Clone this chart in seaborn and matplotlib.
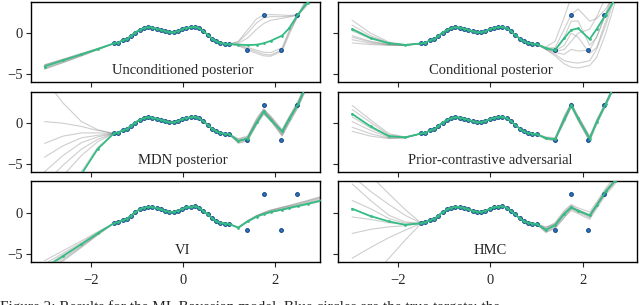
import numpy as np
import pandas as pd
import seaborn as sns
import matplotlib.pyplot as plt

# **Data**
titles = ["Unconditioned posterior", "Conditional posterior", "MDN posterior",
          "Prior-contrastive adversarial", "VI", "HMC"]

# observed targets (dense part) and the four outliers
x_data = [-1.50, -1.41, -1.31, -1.22, -1.13, -1.04, -0.94, -0.85, -0.76, -0.67,
          -0.57, -0.48, -0.39, -0.30, -0.20, -0.11, -0.02, 0.07, 0.17, 0.26,
          0.35, 0.44, 0.54, 0.63, 0.72, 0.81, 0.91, 1.00]
y_data = [-1.27, -1.15, -0.90, -0.74, -0.33, 0.08, 0.41, 0.61, 0.74, 0.70,
          0.57, 0.41, 0.25, 0.12, 0.12, 0.25, 0.49, 0.66, 0.74, 0.78,
          0.61, 0.25, -0.20, -0.66, -1.02, -1.19, -1.31, -1.35]
x_out = [1.39, 1.75, 2.12, 2.47]
y_out = [-2.05, 2.25, -2.05, 2.25]

# curves are read at these x positions outside the data range
x_left = [-3.0, -2.6, -2.2, -1.85]
x_right = [1.2, 1.4, 1.6, 1.75, 1.9, 2.15, 2.3, 2.5, 2.7, 3.0]

# posterior mean (green) per panel
mean_left = [
    [-4.12, -3.37, -2.62, -1.96],
    [0.5, -0.6, -1.25, -1.45],
    [-11.0, -8.5, -6.3, -3.2],
    [1.15, -0.4, -1.6, -1.75],
    [-6.7, -5.25, -3.8, -2.5],
    [0.5, -0.4, -1.05, -1.45],
]
mean_right = [
    [-1.4, -1.47, -1.42, -1.25, -0.95, -0.3, 0.6, 2.4, 3.8, 6.0],
    [-1.85, -2.1, -0.6, 0.4, 0.6, -0.74, 0.5, 2.3, 4.2, 7.0],
    [-2.2, -1.9, 0.1, 1.45, 0.4, -1.0, 0.5, 2.4, 5.0, 8.5],
    [-1.85, -2.0, 0.5, 2.25, 0.6, -1.9, 0.1, 2.4, 4.8, 8.5],
    [-1.8, -1.05, -0.45, -0.15, 0.1, 0.4, 0.6, 0.85, 1.1, 1.5],
    [-2.05, -1.5, -0.1, 0.65, 0.25, -0.3, 0.9, 2.6, 3.9, 6.0],
]

# posterior samples (grey) per panel
samples_left = [
    [[-3.9, -3.2, -2.5, -1.9], [-4.4, -3.6, -2.8, -2.05], [-4.0, -3.3, -2.6, -1.95],
     [-4.3, -3.5, -2.7, -2.0], [-3.95, -3.25, -2.55, -1.92], [-4.45, -3.65, -2.8, -2.05]],
    [[1.6, 0.0, -1.1, -1.4], [1.0, -0.3, -1.2, -1.45], [0.3, -0.7, -1.3, -1.47],
     [-0.3, -1.0, -1.4, -1.5], [-0.8, -1.25, -1.45, -1.5], [-1.2, -1.4, -1.5, -1.5],
     [0.6, -0.5, -1.25, -1.46], [-0.5, -1.1, -1.42, -1.5]],
    [[5.5, 2.5, 0.2, -0.8], [0.2, 0.0, -0.4, -0.9], [-2.5, -1.6, -1.2, -1.2],
     [-6.0, -4.0, -2.4, -1.7], [-9.0, -6.5, -4.0, -2.3], [-13.0, -9.5, -6.0, -3.0],
     [-4.2, -2.8, -1.8, -1.5], [-7.5, -5.2, -3.2, -2.0]],
    [[2.2, 0.4, -1.3, -1.7], [1.7, 0.1, -1.45, -1.72], [0.8, -0.6, -1.65, -1.78],
     [0.2, -0.9, -1.75, -1.8], [-0.5, -1.3, -1.85, -1.8], [-1.0, -1.6, -1.9, -1.82]],
    [[-5.8, -4.6, -3.4, -2.3], [-7.4, -5.7, -4.1, -2.65], [-6.2, -4.9, -3.6, -2.4],
     [-7.0, -5.5, -4.0, -2.6], [-6.5, -5.1, -3.75, -2.5], [-7.6, -5.85, -4.2, -2.7]],
    [[7.0, 4.5, 2.3, 0.4], [4.5, 2.6, 1.0, -0.3], [3.5, 1.5, -0.3, -1.1],
     [1.5, 0.5, -0.7, -1.25], [-0.5, -0.8, -1.2, -1.4], [-2.5, -2.0, -1.7, -1.55],
     [-5.5, -4.2, -3.0, -2.1], [-11.0, -8.0, -5.5, -3.3]],
]
samples_right = [
    [[-1.0, 0.4, 1.8, 2.25, 2.3, 2.25, 2.2, 2.3, 4.0, 7.5],
     [-1.1, 0.0, 1.3, 1.9, 2.05, 2.05, 2.1, 2.25, 3.7, 7.0],
     [-1.25, -0.6, 0.5, 1.2, 1.6, 1.85, 2.0, 2.25, 3.5, 6.5],
     [-1.55, -2.05, -2.5, -2.8, -2.85, -2.2, -0.2, 2.25, 4.6, 8.0],
     [-1.5, -1.9, -2.3, -2.6, -2.7, -2.05, 0.1, 2.3, 4.3, 7.5],
     [-1.45, -1.75, -2.1, -2.35, -2.4, -1.8, 0.3, 2.2, 4.0, 7.0]],
    [[-1.7, -1.0, 2.0, 4.5, 7.0, 10.0, 12.0, 14.0, 16.0, 18.0],
     [-1.8, -1.8, 0.5, 2.3, 3.0, 1.5, 1.8, 3.0, 5.0, 8.0],
     [-1.85, -2.0, -0.5, 1.5, 1.5, -1.5, -0.5, 2.5, 5.5, 9.0],
     [-1.9, -2.2, -1.5, 0.0, -0.5, -2.5, -1.8, 1.5, 5.0, 9.0],
     [-1.95, -2.4, -2.6, -2.0, -2.2, -2.1, -0.5, 2.3, 5.0, 8.5],
     [-2.0, -2.6, -3.4, -3.6, -3.7, -3.4, -2.0, 1.0, 4.5, 8.5],
     [-2.0, -2.8, -3.8, -4.2, -4.3, -4.0, -3.0, 0.0, 3.8, 8.0],
     [-1.9, -2.3, -2.0, -1.0, 0.0, 0.5, 2.0, 4.5, 7.0, 10.0]],
    [[-2.0, -1.7, 0.5, 1.7, 0.8, -0.9, 0.7, 2.7, 5.3, 8.8],
     [-2.4, -2.1, -0.1, 1.2, 0.4, -1.5, 0.1, 2.1, 4.7, 8.2],
     [-2.1, -1.8, 0.3, 1.6, 0.7, -1.1, 0.5, 2.5, 5.1, 8.6],
     [-2.3, -2.0, 0.1, 1.3, 0.5, -1.4, 0.3, 2.3, 4.9, 8.4],
     [-1.9, -1.6, 0.6, 1.8, 0.9, -0.8, 0.8, 2.8, 5.4, 9.0],
     [-2.5, -2.2, -0.2, 1.1, 0.3, -1.6, 0.0, 2.0, 4.6, 8.0],
     [-2.2, -1.85, 0.25, 1.5, 0.65, -1.25, 0.4, 2.4, 5.0, 8.5],
     [-2.15, -1.95, 0.15, 1.4, 0.55, -1.15, 0.45, 2.45, 5.05, 8.55]],
    [[-1.7, -1.8, 0.8, 2.5, 0.9, -1.6, 0.4, 2.6, 5.0, 8.7],
     [-2.0, -2.2, 0.2, 2.0, 0.3, -2.2, -0.2, 2.2, 4.6, 8.3],
     [-1.8, -1.9, 0.6, 2.35, 0.7, -1.8, 0.2, 2.5, 4.9, 8.6],
     [-1.9, -2.1, 0.35, 2.1, 0.45, -2.05, 0.0, 2.3, 4.7, 8.4],
     [-1.75, -2.05, 0.9, 2.4, 0.4, -2.3, 0.3, 2.5, 5.1, 8.8],
     [-1.95, -1.95, 0.1, 2.0, 0.8, -1.7, -0.1, 2.3, 4.5, 8.2]],
    [[-1.75, -0.95, -0.3, 0.05, 0.35, 0.7, 0.9, 1.2, 1.5, 2.0],
     [-1.8, -1.05, -0.45, -0.15, 0.1, 0.4, 0.6, 0.85, 1.1, 1.5],
     [-1.78, -1.0, -0.35, -0.05, 0.25, 0.6, 0.8, 1.05, 1.35, 1.8],
     [-1.82, -1.1, -0.5, -0.2, 0.05, 0.35, 0.5, 0.75, 1.0, 1.4],
     [-1.76, -0.98, -0.38, 0.0, 0.3, 0.65, 0.85, 1.15, 1.45, 1.9],
     [-1.8, -1.02, -0.42, -0.1, 0.18, 0.5, 0.7, 0.95, 1.25, 1.65]],
    [[-1.8, -1.2, 0.3, 1.0, 0.6, 0.1, 1.3, 3.0, 4.4, 6.6],
     [-2.3, -1.8, -0.5, 0.3, -0.1, -0.8, 0.5, 2.2, 3.5, 5.5],
     [-1.9, -1.3, 0.1, 0.9, 0.4, -0.2, 1.1, 2.8, 4.1, 6.3],
     [-2.2, -1.7, -0.3, 0.45, 0.05, -0.6, 0.7, 2.4, 3.7, 5.8],
     [-2.4, -1.9, -0.6, 0.5, 0.35, -0.4, 0.8, 2.5, 3.8, 5.9],
     [-1.7, -1.4, 0.0, 0.8, 0.2, -0.3, 1.0, 2.7, 4.0, 6.2],
     [-2.1, -1.6, -0.2, 0.7, 0.3, -0.5, 0.9, 2.6, 3.9, 6.0],
     [-2.0, -1.5, -0.1, 0.6, 0.15, -0.35, 0.85, 2.55, 3.85, 6.1]],
]

caption = "Figure 2: Results for the ML Bayesian model. Blue circles are the true targets; the"

GREEN = "#34bc84"
PT_FACE = "#3a78bd"
PT_EDGE = "#0d4488"


def full_curve(left, right):
    return x_left + x_data + x_right, left + y_data + right


# **Figure**
sns.set_style("ticks")
plt.rcParams['font.family'] = ['Liberation Serif', 'DejaVu Serif']
plt.rcParams['axes.edgecolor'] = 'black'
plt.rcParams['axes.linewidth'] = 1.0

fig, axes = plt.subplots(3, 2, figsize=(6.4, 3.05), dpi=100)

W, H = 640, 305
rows_px = [(1.7, 81.7), (91.7, 171.7), (180.7, 262.3)]
cols_px = [(30.7, 319.5, 2.96), (338.3, 636.7, 3.17)]

for k, ax in enumerate(axes.flat):
    r, c = divmod(k, 2)
    x0, x1, xmax = cols_px[c]
    y0, y1 = rows_px[r]
    ax.set_position([x0 / W, 1 - y1 / H, (x1 - x0) / W, (y1 - y0) / H])

    rows = []
    for i, (l, rr) in enumerate(zip(samples_left[k], samples_right[k])):
        xs, ys = full_curve(l, rr)
        rows += [(i, a, b) for a, b in zip(xs, ys)]
    df = pd.DataFrame(rows, columns=['sample', 'x', 'y'])
    sns.lineplot(data=df, x='x', y='y', units='sample', estimator=None,
                 color='0.45', alpha=0.35, lw=0.8, ax=ax, legend=False)

    sns.scatterplot(x=x_data + x_out, y=y_data + y_out, s=7, color=PT_FACE,
                    edgecolor=PT_EDGE, linewidth=0.8, ax=ax, zorder=3)

    mx, my = full_curve(mean_left[k], mean_right[k])
    sns.lineplot(x=mx, y=my, color=GREEN, lw=1.3, marker='o', markersize=2.0,
                 markeredgewidth=0, ax=ax, zorder=4)

    ax.text(0, -5, titles[k], ha='center', va='baseline', fontsize=10.5)

    ax.set_xlim(-3.3, xmax)
    ax.set_ylim(-6, 3.9)
    ax.set_xticks([-2, 0, 2])
    ax.set_yticks([-5, 0])
    ax.set_xlabel('')
    ax.set_ylabel('')
    ax.tick_params(direction='out', length=3.5, width=0.8, labelsize=10.5, pad=2)
    ax.tick_params(axis='x', pad=5)
    if r < 2:
        ax.tick_params(labelbottom=False)
    if c == 1:
        ax.tick_params(labelleft=False)
    for s in ax.spines.values():
        s.set_visible(True)
        s.set_linewidth(1.0)

# caption runs off the bottom edge, as in the source page crop
fig.text(0.0, 1 - 300.5 / H, caption, va='top', ha='left', fontsize=11)

fig.savefig('out.png', dpi=100)
